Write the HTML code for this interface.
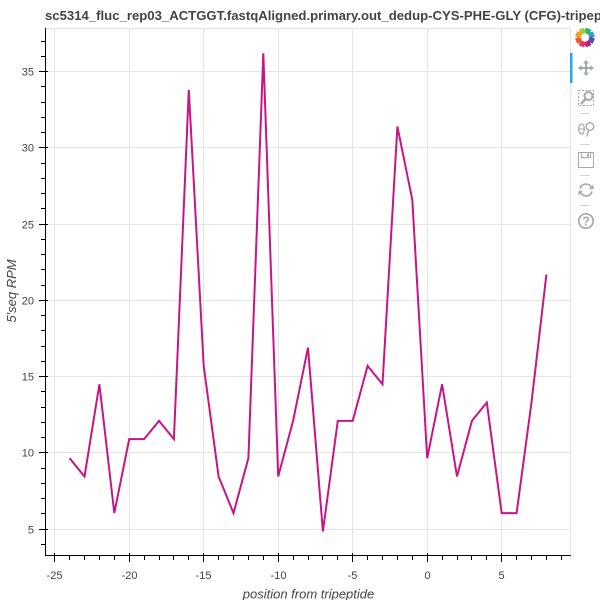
<!DOCTYPE html>
<html>
<head>
<meta charset="utf-8">
<title>5'seq RPM chart</title>
<style>
html,body{margin:0;padding:0;background:#fff;width:600px;height:600px;overflow:hidden}
svg{display:block}
text{font-family:"Liberation Sans",Arial,sans-serif}
</style>
</head>
<body>
<svg id="chart" width="600" height="600" viewBox="0 0 600 600" xmlns="http://www.w3.org/2000/svg">
  <rect x="45.5" y="28.5" width="525" height="527" fill="#fff" stroke="#e5e5e5" stroke-width="1"/>
  <g id="grid"></g>
  <path id="series" fill="none" stroke="#c71585" stroke-width="2" stroke-linejoin="miter" stroke-miterlimit="4"></path>
  <g id="axes"></g>
  <text x="45" y="20" font-size="13.15" font-weight="bold" fill="#444">sc5314_fluc_rep03_ACTGGT.fastqAligned.primary.out_dedup-CYS-PHE-GLY (CFG)-tripeptide</text>
  <text x="308.5" y="598.5" font-size="13" font-style="italic" fill="#444" text-anchor="middle">position from tripeptide</text>
  <text transform="translate(16,291) rotate(-90)" font-size="13" font-style="italic" fill="#444" text-anchor="middle">5'seq RPM</text>

  <g>
    <g transform="translate(585,37.5)" fill="none" stroke-width="5.5">
      <path d="M0-7.4 L5.2-5.2" stroke="#2bb673"/>
      <path d="M5.2-5.2 L7.4 0" stroke="#27a5c9"/>
      <path d="M7.4 0 L5.2 5.2" stroke="#5b4aa8"/>
      <path d="M5.2 5.2 L0 7.4" stroke="#a9258f"/>
      <path d="M0 7.4 L-5.2 5.2" stroke="#ee2f5f"/>
      <path d="M-5.2 5.2 L-7.4 0" stroke="#f2542d"/>
      <path d="M-7.4 0 L-5.2-5.2" stroke="#f79a1f"/>
      <path d="M-5.2-5.2 L0-7.4" stroke="#a8c838"/>
    </g>
    <rect x="570" y="53" width="2.5" height="30" fill="#26aae1"/>
    <g transform="translate(586,68) scale(0.8)" fill="#a5a9ab" stroke="#a5a9ab">
      <path d="M-6 0H6M0-6V6" stroke-width="2.6" fill="none"/>
      <path d="M0-10L-3.6-5.6H3.6ZM0 10L-3.6 5.6H3.6ZM-10 0L-5.6-3.6V3.6ZM10 0L5.6-3.6V3.6Z" stroke="none"/>
    </g>
    <g transform="translate(578,90)" fill="none" stroke="#a5a9ab">
      <rect x="0.5" y="0.5" width="15" height="15" stroke-dasharray="2 1.5"/>
      <circle cx="10.5" cy="6" r="4" stroke-width="2" fill="#fff"/>
      <path d="M7.5 9L3 14" stroke-width="2.4"/>
    </g>
    <rect x="580" y="113" width="10" height="1" fill="#d5d5d5"/>
    <g transform="translate(578,122)" fill="none" stroke="#a5a9ab">
      <ellipse cx="3.5" cy="7" rx="2.8" ry="5" stroke-width="1.2"/>
      <path d="M1 7H6" stroke-width="1"/>
      <circle cx="12" cy="4.5" r="3.8" stroke-width="1.4"/>
      <path d="M10.5 8L9 14.5" stroke-width="1.5"/>
    </g>
    <rect x="580" y="144" width="10" height="1" fill="#d5d5d5"/>
    <g transform="translate(578,152)" fill="none" stroke="#a5a9ab">
      <rect x="0.5" y="0.5" width="15" height="15"/>
      <path d="M3.5 .5V5.5H12.5V.5" />
      <rect x="9" y="1.5" width="2" height="3" fill="#a5a9ab" stroke="none"/>
    </g>
    <rect x="580" y="175" width="10" height="1" fill="#d5d5d5"/>
    <g transform="translate(586,190)" fill="none" stroke="#a5a9ab" stroke-width="1.7">
      <path d="M-6-1.5A6.2 6.2 0 0 1 5.5-2.5"/>
      <path d="M6 1.5A6.2 6.2 0 0 1-5.5 2.5"/>
      <path d="M7.5-5.5V-.8H3ZM-7.5 5.5V.8H-3Z" fill="#a5a9ab" stroke="none"/>
    </g>
    <rect x="580" y="205" width="10" height="1" fill="#d5d5d5"/>
    <g transform="translate(586,221)">
      <circle cx="0" cy="0" r="7.2" fill="none" stroke="#a5a9ab" stroke-width="1.7"/>
      <text x="0" y="4.5" font-size="12.5" font-weight="bold" fill="#a5a9ab" text-anchor="middle">?</text>
    </g>
  </g>
</svg>
<script>
var positions = [-24,-23,-22,-21,-20,-19,-18,-17,-16,-15,-14,-13,-12,-11,-10,-9,-8,-7,-6,-5,-4,-3,-2,-1,0,1,2,3,4,5,6,7,8];
var rpmValues = [9.65,8.45,14.5,6.05,10.9,10.9,12.1,10.9,33.8,15.7,8.45,6.05,9.65,36.2,8.45,12.1,16.9,4.85,12.1,12.1,15.7,14.5,31.4,26.6,9.65,14.5,8.45,12.1,13.3,6.05,6.05,13.3,21.7];
var xTickLabels = [-25,-20,-15,-10,-5,0,5];
var yTickLabels = [5,10,15,20,25,30,35];
var xMinorTicks = [-25,-24,-23,-22,-21,-20,-19,-18,-17,-16,-15,-14,-13,-12,-11,-10,-9,-8,-7,-6,-5,-4,-3,-2,-1,0,1,2,3,4,5,6,7,8,9];
var yMinorTicks = [4,5,6,7,8,9,10,11,12,13,14,15,16,17,18,19,20,21,22,23,24,25,26,27,28,29,30,31,32,33,34,35,36,37];

function xScale(v) { return 427.2 + v * 14.9; }
function yScale(v) { return 529.1 - (v - 5) * 15.25; }

var NS = 'http://www.w3.org/2000/svg';
var gridG = document.getElementById('grid');
var axesG = document.getElementById('axes');

function mk(parent, tag, attrs) {
  var el = document.createElementNS(NS, tag);
  for (var k in attrs) el.setAttribute(k, attrs[k]);
  parent.appendChild(el);
  return el;
}
function snap(v) { return Math.floor(v) + 0.5; }

xTickLabels.forEach(function (t) {
  var x = snap(xScale(t));
  var g = mk(gridG, 'line', {x1: x, x2: x, y1: 28, y2: 555, stroke: '#e5e5e5', 'stroke-width': 1});
  
  
  var tick = mk(axesG, 'line', {x1: x, x2: x, y1: 553, y2: 562, stroke: '#000', 'stroke-width': 1});
  
  
  var lab = mk(axesG, 'text', {x: x, y: 579, 'font-size': 11, fill: '#444', 'text-anchor': 'middle'});
  lab.textContent = t;
  
  
});
yTickLabels.forEach(function (t) {
  var y = snap(yScale(t));
  var g = mk(gridG, 'line', {x1: 45, x2: 571, y1: y, y2: y, stroke: '#e5e5e5', 'stroke-width': 1});
  
  
  var tick = mk(axesG, 'line', {x1: 39, x2: 48, y1: y, y2: y, stroke: '#000', 'stroke-width': 1});
  
  
  var lab = mk(axesG, 'text', {x: 34, y: y + 4, 'font-size': 11, fill: '#444', 'text-anchor': 'end'});
  lab.textContent = t;
  
  
});
xMinorTicks.forEach(function (t) {
  var x = snap(xScale(t));
  var m = mk(axesG, 'line', {x1: x, x2: x, y1: 555, y2: 560, stroke: '#000', 'stroke-width': 1});
  
  
});
yMinorTicks.forEach(function (t) {
  var y = snap(yScale(t));
  var m = mk(axesG, 'line', {x1: 41, x2: 45, y1: y, y2: y, stroke: '#000', 'stroke-width': 1});
  
  
});
var xAxis = mk(axesG, 'line', {x1: 45, x2: 571, y1: 555.5, y2: 555.5, stroke: '#000', 'stroke-width': 1});


var yAxis = mk(axesG, 'line', {x1: 45.5, x2: 45.5, y1: 28, y2: 556, stroke: '#000', 'stroke-width': 1});



var d = positions.map(function (p, i) {
  return (i ? 'L' : 'M') + xScale(p).toFixed(2) + ' ' + yScale(rpmValues[i]).toFixed(2);
}).join(' ');
document.getElementById('series').setAttribute('d', d);
</script>
</body>
</html>
